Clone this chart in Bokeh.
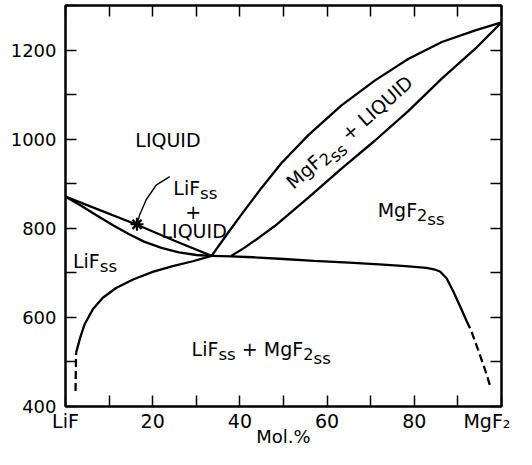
import math
from bokeh.plotting import figure
from bokeh.models import Range1d, LinearAxis, FixedTicker, Label
from bokeh.embed import file_html
from bokeh.resources import INLINE

# ---------------- data (mol.% MgF2, temperature in deg C) ----------------
# LiF-side liquidus
liq_lif_x = [0, 7.0, 16.4, 25.0, 33.5]
liq_lif_y = [871, 844, 808, 772, 738]
# LiF-side solidus
sol_lif_x = [0, 3.5, 7.0, 11.0, 14.5, 18.0, 22.0, 26.0, 30.0, 33.5]
sol_lif_y = [871, 851, 830, 806, 787, 770, 756, 746, 740, 738]
# LiF solvus (solid part) and its dashed extension
solv_lif_x = [2.43, 3.35, 4.36, 6.27, 8.56, 11.6, 15.5, 20.0, 24.6, 29.2, 33.5]
solv_lif_y = [521, 554, 584, 618, 644, 666, 685, 702, 715, 726, 738]
solv_lif_dash_x = [2.3, 2.43]
solv_lif_dash_y = [435, 521]
# MgF2-side liquidus
liq_mgf_x = [33.5, 37.0, 40.3, 44.9, 49.5, 55.7, 63.3, 71.0, 78.6, 86.3, 94.0, 100]
liq_mgf_y = [738, 786, 830, 890, 946, 1009, 1076, 1132, 1180, 1218, 1244, 1262]
# MgF2-side solidus
sol_mgf_x = [38.0, 41.0, 44.5, 48.0, 55.7, 63.3, 71.0, 78.6, 86.3, 94.0, 100]
sol_mgf_y = [738, 756, 780, 805, 869, 934, 997, 1063, 1136, 1203, 1262]
# MgF2 solvus (solid part) and its dashed extension
solv_mgf_x = [33.5, 38.0, 43.0, 50.0, 57.0, 65.0, 72.0, 78.0, 82.8, 84.5, 85.9, 87.4, 88.9, 90.5, 92.0]
solv_mgf_y = [738, 737, 735, 731, 727, 723, 719, 715, 711, 708, 703, 688, 659, 625, 592]
solv_mgf_dash_x = [92.0, 93.1, 95.0, 96.6, 97.5]
solv_mgf_dash_y = [592, 569, 517, 472, 442]
# arrow from the "LiFss + LIQUID" label to the marked point
arrow_x = [23.9, 20.8, 18.5, 17.0, 16.4]
arrow_y = [916, 897, 864, 830, 809]
star_x = [16.4]
star_y = [809]

x_ticks = [0, 10, 20, 30, 40, 50, 60, 70, 80, 90, 100]
x_tick_labels = {0: "LiF", 20: "20", 40: "40", 60: "60", 80: "80",
                 100: "MgF\u2082\u00a0"}
y_ticks = [400, 500, 600, 700, 800, 900, 1000, 1100, 1200, 1300]
y_tick_labels = {400: "400", 600: "600", 800: "800", 1000: "1000", 1200: "1200"}
x_title = "Mol.%"

FONT = "DejaVu Sans"

p = figure(width=516, height=449,
           x_range=Range1d(0, 100), y_range=Range1d(400, 1300),
           output_backend="svg", toolbar_location=None,
           min_border_left=65, min_border_right=15,
           min_border_top=5, min_border_bottom=42)
p.grid.visible = False
p.outline_line_color = "black"
p.outline_line_width = 2
p.background_fill_color = "white"
p.border_fill_color = "white"


def style_axis(ax, ticks, labels, font_size, standoff):
    ax.ticker = FixedTicker(ticks=ticks)
    ax.major_label_overrides = {t: labels.get(t, "") for t in ticks}
    ax.major_tick_in = 11
    ax.major_tick_out = 0
    ax.major_tick_line_width = 1.5
    ax.major_tick_line_color = "black"
    ax.minor_tick_line_color = None
    ax.axis_line_width = 2
    ax.axis_line_color = "black"
    ax.major_label_text_font = FONT
    ax.major_label_text_font_size = font_size
    ax.major_label_text_color = "black"
    ax.major_label_standoff = standoff


style_axis(p.xaxis[0], x_ticks, x_tick_labels, "19px", 3)
style_axis(p.yaxis[0], y_ticks, y_tick_labels, "18px", 9)
xa = p.xaxis[0]
xa.axis_label = x_title
xa.axis_label_text_font = FONT
xa.axis_label_text_font_size = "18px"
xa.axis_label_text_font_style = "normal"
xa.axis_label_text_color = "black"
xa.axis_label_standoff = -9

top_axis = LinearAxis()
style_axis(top_axis, x_ticks, {}, "0px", 0)
p.add_layout(top_axis, "above")
right_axis = LinearAxis()
style_axis(right_axis, y_ticks, {}, "0px", 0)
p.add_layout(right_axis, "right")

LW = 2.3
p.line(liq_lif_x, liq_lif_y, line_color="black", line_width=LW)
p.line(sol_lif_x, sol_lif_y, line_color="black", line_width=LW)
p.line(solv_lif_x, solv_lif_y, line_color="black", line_width=LW)
p.line(solv_lif_dash_x, solv_lif_dash_y, line_color="black", line_width=LW, line_dash="8 4")
p.line(liq_mgf_x, liq_mgf_y, line_color="black", line_width=LW)
p.line(sol_mgf_x, sol_mgf_y, line_color="black", line_width=LW)
p.line(solv_mgf_x, solv_mgf_y, line_color="black", line_width=LW)
p.line(solv_mgf_dash_x, solv_mgf_dash_y, line_color="black", line_width=LW, line_dash="8 4")
p.line(arrow_x, arrow_y, line_color="black", line_width=1.4)
p.scatter(star_x, star_y, marker="asterisk", size=13, line_color="black", line_width=2.2)

# ---------------- region labels with hand-set subscripts ----------------
EM = {' ': 0.318, '+': 0.838, '.': 0.318, '%': 0.950, '2': 0.636, 'D': 0.770,
      'F': 0.575, 'I': 0.295, 'L': 0.557, 'M': 0.863, 'Q': 0.787, 'U': 0.732,
      'g': 0.635, 'i': 0.278, 'l': 0.278, 'o': 0.612, 's': 0.521}


def tw(s, size):
    return sum(EM.get(c, 0.6) for c in s) * size


def compound(x, y, parts, size, angle_deg=0.0, align="center"):
    """parts: list of (text, scale, drop_px)"""
    widths = [tw(t, size * sc) for t, sc, dr in parts]
    total = sum(widths)
    cur = {"center": -total / 2, "left": 0.0, "right": -total}[align]
    a = math.radians(angle_deg)
    ux, uy = math.cos(a), -math.sin(a)
    px_, py_ = math.sin(a), math.cos(a)
    for (t, sc, dr), w in zip(parts, widths):
        if t.strip():
            sx = cur * ux + dr * px_
            sy = cur * uy + dr * py_
            p.add_layout(Label(x=x, y=y, x_offset=sx, y_offset=-sy, text=t,
                               angle=a, text_font=FONT,
                               text_font_size=f"{size * sc:.1f}px",
                               text_align="left", text_baseline="alphabetic",
                               text_color="black"))
        cur += w


S = 19
SUB = 0.88
compound(23.5, 998, [("LIQUID", 1, 0)], S)
compound(29.8, 890, [("LiF", 1, 0), ("ss", SUB, 4.5)], S)
compound(29.3, 837, [("+", 1, 0)], S)
compound(29.5, 794, [("LIQUID", 1, 0)], S)
compound(1.7, 726, [("LiF", 1, 0), ("ss", SUB, 4.5)], S, align="left")
compound(44.9, 528, [("LiF", 1, 0), ("ss", SUB, 4.5), (" ", 1, 0), ("+", 1, 0), (" ", 1, 0),
                     ("MgF", 1, 0), ("2", 0.85, 4.5), ("ss", SUB, 8.5)], S)
compound(79.3, 841, [("MgF", 1, 0), ("2", 0.85, 4.5), ("ss", SUB, 8.5)], S)
compound(65.1, 1016, [("MgF", 1, 0), ("2", 0.85, 4.5), ("ss", SUB, 8.5), (" ", 1, 0), ("+", 1, 0),
                      (" ", 1, 0), ("LIQUID", 1, 0)], S, angle_deg=41)

open("out.html", "w").write(file_html(p, INLINE))
